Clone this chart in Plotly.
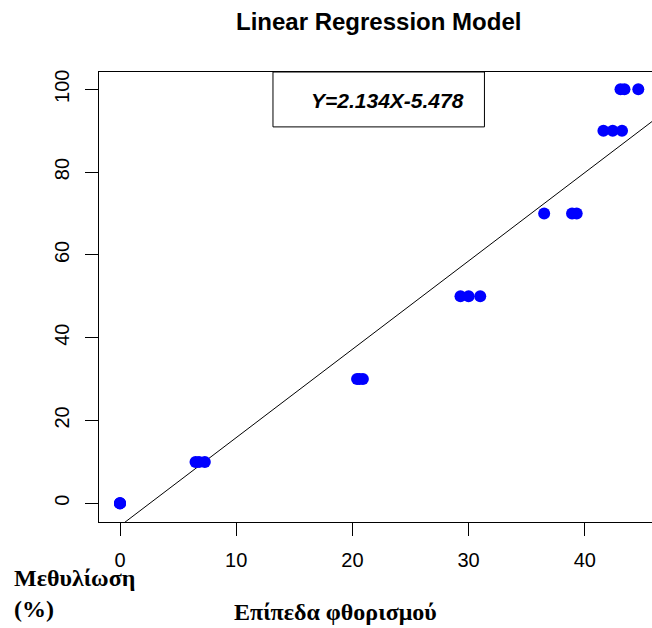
import plotly.graph_objects as go

# Data (3 replicates per methylation level)
fluorescence = [0, 0, 0,
                6.5, 6.8, 7.3,
                20.4, 20.6, 20.9,
                29.3, 30.0, 31.0,
                36.5, 38.9, 39.3,
                41.6, 42.4, 43.2,
                43.07, 43.41, 44.6]
methylation = [0, 0, 0,
               10, 10, 10,
               30, 30, 30,
               50, 50, 50,
               70, 70, 70,
               90, 90, 90,
               100, 100, 100]
slope = 2.134
intercept = -5.478
x_ticks = [0, 10, 20, 30, 40]
y_ticks = [0, 20, 40, 60, 80, 100]

x_range = [-1.807, 45.78]
y_range = [-4.52, 104.18]

line_x = [x_range[0], x_range[1]]
line_y = [slope * v + intercept for v in line_x]

fig = go.Figure()
fig.add_trace(go.Scatter(x=line_x, y=line_y, mode="lines",
                         line=dict(color="black", width=1), showlegend=False,
                         hoverinfo="skip"))
fig.add_trace(go.Scatter(x=fluorescence, y=methylation, mode="markers",
                         marker=dict(color="#0000FF", size=12, line=dict(width=0)),
                         showlegend=False))

axis_font = dict(family="Liberation Sans, Arial", size=20, color="black")
fig.update_layout(
    width=652, height=628,
    margin=dict(l=99, r=0, t=72, b=106),
    paper_bgcolor="white", plot_bgcolor="white",
    xaxis=dict(range=x_range, tickvals=x_ticks, ticks="outside", ticklen=13,
               tickcolor="black", showline=True, mirror=True, linecolor="black",
               linewidth=1, showgrid=False, zeroline=False, tickfont=axis_font,
               ticklabelstandoff=7),
    yaxis=dict(range=y_range, tickvals=y_ticks, ticks="outside", ticklen=13,
               tickcolor="black", showline=True, mirror=False, linecolor="black",
               linewidth=1, showgrid=False, zeroline=False, tickfont=axis_font,
               tickangle=-90, ticklabelstandoff=8),
    shapes=[dict(type="rect", xref="paper", yref="paper",
                 x0=0.3146, x1=0.697, y0=0.878, y1=1.0,
                 line=dict(color="black", width=1), fillcolor="white", layer="above")],
    annotations=[
        dict(text="<b>Linear Regression Model</b>", xref="paper", yref="paper",
             x=0.5063, y=1.112, xanchor="center", yanchor="middle", showarrow=False,
             font=dict(family="Liberation Sans, Arial", size=24, color="black")),
        dict(text="<b><i>Y=2.134X-5.478</i></b>", xref="paper", yref="paper",
             x=0.5226, y=0.9356, xanchor="center", yanchor="middle", showarrow=False,
             font=dict(family="Liberation Sans, Arial", size=21, color="black")),
        dict(text="<b>Επίπεδα φθορισμού</b>", xref="paper", yref="paper",
             x=0.4268, y=-0.2, xanchor="center", yanchor="middle", showarrow=False,
             font=dict(family="Liberation Serif, Times New Roman", size=24, color="black")),
        dict(text="<b>Μεθυλίωση<br>(%)</b>", xref="paper", yref="paper",
             x=-0.157, y=-0.158, xanchor="left", yanchor="middle", align="left",
             showarrow=False,
             font=dict(family="Liberation Serif, Times New Roman", size=24, color="black")),
    ],
)
fig.write_html("out.html", config={"displayModeBar": False},
               post_script="document.body.style.margin='0';document.body.style.overflow='hidden';")
